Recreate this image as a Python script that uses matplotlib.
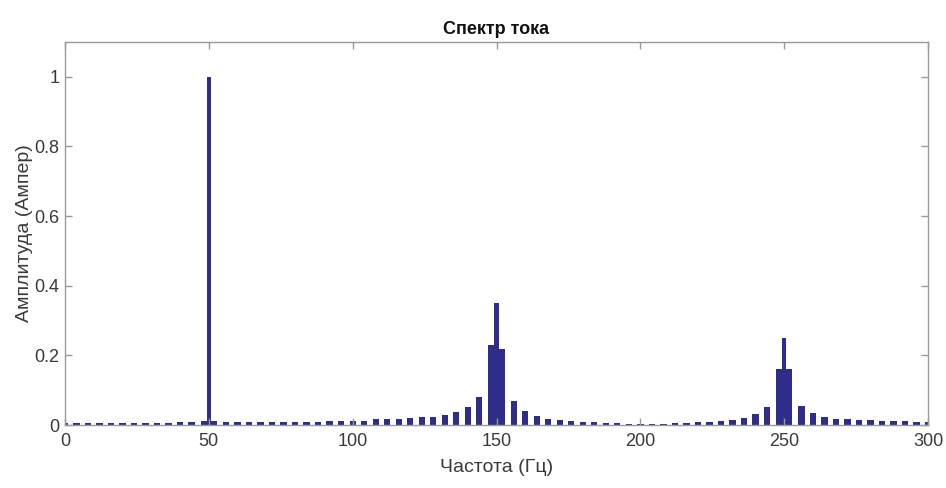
import matplotlib
matplotlib.use("Agg")
import matplotlib.pyplot as plt
import numpy as np

plt.rcParams['font.family'] = ['Liberation Sans Narrow', 'Liberation Sans', 'DejaVu Sans']

# Spectrum bins on the 4 Hz grid (harmonic neighbourhoods drawn separately)
grid_freq = ([0, 4, 8, 12, 16, 20, 24, 28, 32, 36, 40, 44]
             + [56, 60, 64, 68, 72, 76, 80, 84, 88, 92, 96, 100]
             + [104, 108, 112, 116, 120, 124, 128, 132, 136, 140, 144]
             + [156, 160, 164, 168, 172, 176, 180, 184, 188, 192, 196, 200,
                204, 208, 212, 216, 220, 224, 228, 232, 236, 240, 244]
             + [256, 260, 264, 268, 272, 276, 280, 284, 288, 292, 296, 300])
grid_amp = ([0.005, 0.005, 0.005, 0.006, 0.006, 0.006, 0.006, 0.007, 0.007, 0.007, 0.008, 0.009]
            + [0.009, 0.008, 0.008, 0.008, 0.009, 0.009, 0.009, 0.010, 0.010, 0.011, 0.011, 0.012]
            + [0.013, 0.016, 0.017, 0.018, 0.021, 0.022, 0.024, 0.029, 0.038, 0.051, 0.080]
            + [0.069, 0.041, 0.025, 0.018, 0.014, 0.011, 0.009, 0.008, 0.006, 0.005, 0.004, 0.003,
               0.003, 0.004, 0.005, 0.006, 0.008, 0.010, 0.012, 0.015, 0.020, 0.031, 0.051]
            + [0.055, 0.034, 0.022, 0.018, 0.016, 0.015, 0.014, 0.013, 0.012, 0.011, 0.010, 0.009])

# Harmonics: centre line plus the two leakage bins either side
harm_freq = [50, 150, 250]
harm_amp = [1.0, 0.35, 0.25]
side_left_amp = [0.013, 0.23, 0.16]
side_right_amp = [0.013, 0.218, 0.16]
side_offset = 1.4

x_ticks = [0, 50, 100, 150, 200, 250, 300]
y_ticks = [0, 0.2, 0.4, 0.6, 0.8, 1.0]
y_ticklabels = ['0', '0.2', '0.4', '0.6', '0.8', '1']

bar_color = '#2f2d8a'
axis_color = '#9a9a9a'
text_color = '#3a3a3a'

fig = plt.figure(figsize=(9.46, 4.88), dpi=100)
ax = fig.add_axes([0.0687, 0.129, 0.9123, 0.785])

ax.bar(grid_freq, grid_amp, width=2.2, color=bar_color, linewidth=0)
hf = np.array(harm_freq, dtype=float)
ax.bar(hf - side_offset, side_left_amp, width=2.8, color=bar_color, linewidth=0)
ax.bar(hf + side_offset, side_right_amp, width=2.8, color=bar_color, linewidth=0)
ax.bar(hf, harm_amp, width=1.6, color=bar_color, linewidth=0)

ax.set_xlim(0, 300)
ax.set_ylim(0, 1.1)
ax.set_xticks(x_ticks)
ax.set_xticklabels([str(t) for t in x_ticks])
ax.set_yticks(y_ticks)
ax.set_yticklabels(y_ticklabels)

for s in ax.spines.values():
    s.set_color(axis_color)
    s.set_linewidth(1.0)
ax.tick_params(axis='both', direction='in', length=5, width=1.0, color=axis_color,
               labelcolor=text_color, labelsize=13, top=True, right=True)
ax.tick_params(axis='x', pad=6)
ax.tick_params(axis='y', pad=4)

ax.set_xlabel('Частота (Гц)', fontsize=14, color=text_color, labelpad=6)
ax.set_ylabel('Амплитуда (Ампер)', fontsize=14, color=text_color, labelpad=1)
ax.set_title('Спектр тока', fontsize=13, fontweight='bold', color='#111111', pad=6)

fig.savefig('out.png', dpi=100)
